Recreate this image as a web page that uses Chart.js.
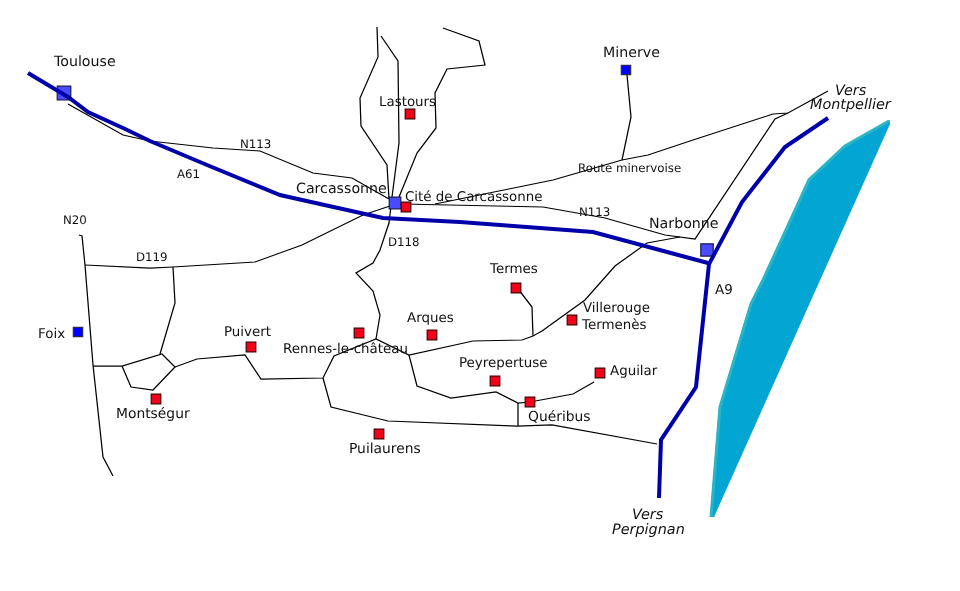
<!DOCTYPE html>
<html>
<head>
<meta charset="utf-8">
<title>Carte du pays cathare</title>
<script src="https://cdn.jsdelivr.net/npm/chart.js@4/dist/chart.umd.js"></script>
<style>
  html, body { margin: 0; padding: 0; background: #fff; }
  canvas { display: block; }
</style>
</head>
<body>
<canvas id="mapChart" width="960" height="591"></canvas>
<script>
// map coordinates: [x, y], y going down
const sea = [[890,120],[845,145],[808,179],[762,280],[750,303],[719,407],[710,517],[714,517],[890,124]];
const seaShore = [[889,121],[845,146],[809,180],[763,280],[751,304],[720,407],[711,517]];

const autorouteA61 = [[28,73],[68,97],[88,112],[123,128],[150,141],[207,165],[280,195],[320,204],[383,218],[460,222],[593,232],[708,263]];
const autorouteA9 = [[828,118],[785,147],[742,202],[709,264],[696,387],[661,440],[659,498]];

const roadN113West = [[68,104],[123,135],[150,141],[213,148],[260,151],[313,173],[352,178],[389,199]];
const roadN113East = [[402,204],[543,207],[605,218],[665,235],[695,239],[775,119],[788,113]];
const roadMinervoise = [[435,204],[553,180],[622,160],[648,155],[693,140],[773,114],[788,113],[828,91]];
const roadMinerve = [[627,75],[631,117],[622,160]];
const roadD119 = [[85,265],[150,268],[173,267],[255,262],[302,245],[363,215],[390,206]];
const roadN20 = [[79,235],[82,236],[85,265],[93,365],[103,457],[113,476]];
const roadD119South = [[173,267],[175,303],[160,354]];
const roadMontsegur = [[93,366],[122,366],[162,354],[175,367],[153,390],[131,387],[122,366]];
const roadPuivert = [[175,367],[197,359],[245,355],[261,379],[323,378],[334,356],[376,339],[409,355],[473,341],[522,340],[533,336],[542,331],[585,300],[615,266],[647,243],[680,237]];
const roadNorthA = [[377,27],[378,57],[360,98],[361,126],[387,165],[389,199]];
const roadNorthB = [[381,36],[398,61],[399,143],[392,197],[389,223],[380,250],[373,263],[356,273],[373,291],[380,315],[376,339]];
const roadNorthC = [[443,28],[479,41],[485,65],[447,69],[435,93],[436,128],[417,153],[399,197]];
const roadPeyrepertuse = [[409,355],[417,386],[451,398],[496,392],[518,403],[530,402],[573,394],[594,382]];
const roadQueribus = [[518,403],[518,426]];
const roadPuilaurens = [[323,378],[331,407],[388,421],[517,426],[552,425],[657,444]];
const roadTermes = [[517,288],[522,294],[532,307],[533,336]];

const blackRoads = [roadN113West, roadN113East, roadMinervoise, roadMinerve, roadD119, roadN20,
  roadD119South, roadMontsegur, roadPuivert, roadNorthA, roadNorthB, roadNorthC,
  roadPeyrepertuse, roadQueribus, roadPuilaurens, roadTermes];

const bigCities = [[64,93],[395,203],[707,250]];
const smallCities = [[626,70],[78,332]];
const castles = [[410,114],[406,207],[251,347],[156,399],[359,333],[432,335],[516,288],[572,320],[495,381],[600,373],[530,402],[379,434]];

const cityLabels = [["Toulouse",54,66],["Carcassonne",296,193],["Minerve",603,57],["Narbonne",649,228]];
const midLabels = [["Montségur",116,418],["Quéribus",528,421],["Puilaurens",349,453]];
const tightLabels = [["Cité de Carcassonne",405,201],["Rennes-le-château",283,353],["Lastours",379,106],
  ["A9",715,294],["Foix",38,338],["Puivert",224,336],["Termes",490,273],["Arques",407,322],
  ["Villerouge",583,312],["Termenès",582,329],["Peyrepertuse",459,367],["Aguilar",610,375]];
const roadLabels = [["N113",240,148],["A61",177,178],["D118",388,246],["N113",579,216],
  ["Route minervoise",578,172],["N20",63,224],["D119",136,261]];
const directionLabels = [["Vers",835,95],["Montpellier",810,109],["Vers",632,519],["Perpignan",612,534]];

const toPoints = (list) => list.map(([x, y]) => ({ x, y }));

const datasets = [];
datasets.push({
  data: toPoints(sea), showLine: true, pointRadius: 0, borderWidth: 0, tension: 0,
  backgroundColor: "#03a6d3", borderColor: "#03a6d3", fill: "shape", order: 10,
});
datasets.push({
  data: toPoints(seaShore), showLine: true, pointRadius: 0, borderWidth: 3, tension: 0,
  borderColor: "#2db4c4", fill: false, order: 9,
});
blackRoads.forEach((road) => {
  datasets.push({
    data: toPoints(road), showLine: true, pointRadius: 0, borderWidth: 1.25, tension: 0,
    borderColor: "#000", fill: false, order: 8,
  });
});
datasets.push({
  data: toPoints(bigCities), showLine: false, pointStyle: "rect", pointRadius: [9.6, 8.2, 8.8],
  backgroundColor: "#4a4aff", borderColor: "#1a1a4d", borderWidth: 1.2, order: 6,
});
datasets.push({
  data: toPoints(smallCities), showLine: false, pointStyle: "rect", pointRadius: 6.6,
  backgroundColor: "#0000ff", borderColor: "#2a2a4d", borderWidth: 1.2, order: 6,
});
datasets.push({
  data: toPoints(castles), showLine: false, pointStyle: "rect", pointRadius: 6.8,
  backgroundColor: "#f5001a", borderColor: "#400", borderWidth: 1.2, order: 6,
});
[autorouteA61, autorouteA9].forEach((road) => {
  datasets.push({
    data: toPoints(road), showLine: true, pointRadius: 0, borderWidth: 4, tension: 0,
    borderColor: "#0000aa", fill: false, order: 5,
  });
});

// town and road names, placed through the chart's scales
const mapLabels = {
  id: "mapLabels",
  afterDatasetsDraw(chart) {
    const { ctx, scales } = chart;
    const write = (list, font) => {
      ctx.font = font;
      list.forEach(([text, x, y]) => {
        ctx.fillText(text, scales.x.getPixelForValue(x), scales.y.getPixelForValue(y));
      });
    };
    ctx.save();
    ctx.fillStyle = "#111";
    ctx.textBaseline = "alphabetic";
    ctx.textAlign = "left";
    ctx.textRendering = "geometricPrecision";
    write(cityLabels, "14.2px 'DejaVu Sans'");
    write(midLabels, "13.85px 'DejaVu Sans'");
    write(tightLabels, "13.4px 'DejaVu Sans'");
    write(roadLabels, "11.8px 'DejaVu Sans'");
    write(directionLabels, "italic 14.4px 'DejaVu Sans'");
    ctx.restore();
  },
};

new Chart(document.getElementById("mapChart"), {
  type: "scatter",
  data: { datasets },
  plugins: [mapLabels],
  options: {
    responsive: false,
    animation: false,
    layout: { padding: 0, autoPadding: false },
    plugins: { legend: { display: false }, tooltip: { enabled: false } },
    scales: {
      x: { type: "linear", min: 0, max: 960, display: false },
      y: { type: "linear", min: 0, max: 591, reverse: true, display: false },
    },
  },
});
</script>
</body>
</html>
